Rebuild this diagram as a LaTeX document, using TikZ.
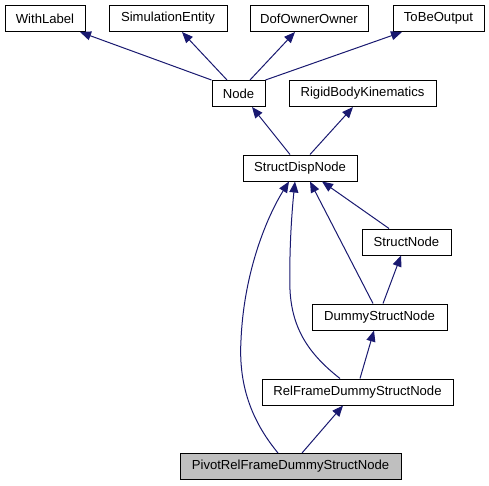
\documentclass[tikz,border=0pt]{standalone}
\usepackage{xcolor}
\usepackage{fontspec}
\setmainfont{Liberation Sans}
\usepackage{tikz}
\usetikzlibrary{arrows.meta}
\definecolor{edgeblue}{HTML}{191970}
\definecolor{curgray}{HTML}{BFBFBF}

\begin{document}
\begin{tikzpicture}[x=1pt,y=-1pt,
        cls/.style={draw=black,line width=1pt,minimum height=26pt,inner sep=0pt,
            font=\fontsize{13.1}{15}\selectfont},
        inh/.style={draw=edgeblue,line width=1pt,-{Triangle[length=11pt,width=9pt]}}]
    \useasboundingbox (0,0) rectangle (489,485);
    \node[cls,minimum width=80pt] (withlabel) at (45,18.5) {WithLabel};
    \node[cls,minimum width=118pt] (siment) at (168,18.5) {SimulationEntity};
    \node[cls,minimum width=118pt] (dofowner) at (309,18.5) {DofOwnerOwner};
    \node[cls,minimum width=91pt] (tobeout) at (438.5,18.5) {ToBeOutput};
    \node[cls,minimum width=53pt] (node) at (238.5,93.5) {Node};
    \node[cls,minimum width=147pt] (rbk) at (362.5,93.5) {RigidBodyKinematics};
    \node[cls,minimum width=114pt] (sdn) at (300,168) {StructDispNode};
    \node[cls,minimum width=89pt] (snode) at (406.5,242) {StructNode};
    \node[cls,minimum width=135pt] (dummy) at (379.5,317) {DummyStructNode};
    \node[cls,minimum width=191pt] (relframe) at (357.5,392) {RelFrameDummyStructNode};
    \node[cls,minimum width=221pt,fill=curgray] (pivot) at (290.5,466.5) {PivotRelFrameDummyStructNode};

    \draw[inh] (node.north west) -- ([xshift=35pt]withlabel.south);
    \draw[inh] ([xshift=-11.5pt]node.north) -- ([xshift=14pt]siment.south);
    \draw[inh] ([xshift=11.5pt]node.north) -- ([xshift=-14pt]dofowner.south);
    \draw[inh] (node.north east) -- ([xshift=-36.5pt]tobeout.south);
    \draw[inh] ([xshift=-10pt]sdn.north) -- ([xshift=13.5pt]node.south);
    \draw[inh] ([xshift=10pt]sdn.north) -- ([xshift=-9.5pt]rbk.south);
    \draw[inh] ([xshift=-17.5pt]snode.north) -- ([xshift=22pt]sdn.south);
    \draw[inh] ([xshift=-6.5pt]dummy.north) -- ([xshift=10pt]sdn.south);
    \draw[inh] ([xshift=3.5pt]dummy.north) -- ([xshift=-5.5pt]snode.south);
    \draw[inh] ([xshift=2.5pt]relframe.north) -- ([xshift=-5.5pt]dummy.south);
    \draw[inh] ([xshift=-17.5pt]relframe.north) .. controls (310,355) and (292,330) .. (290,290)
        .. controls (289,250) and (292,210) .. ([xshift=-5pt]sdn.south);
    \draw[inh] ([xshift=11.5pt]pivot.north) -- ([xshift=-14.5pt]relframe.south);
    \draw[inh] ([xshift=-12.5pt]pivot.north) .. controls (255,425) and (238,390) .. (241,340)
        .. controls (244,270) and (268,215) .. ([xshift=-11pt]sdn.south);
\end{tikzpicture}
\end{document}
